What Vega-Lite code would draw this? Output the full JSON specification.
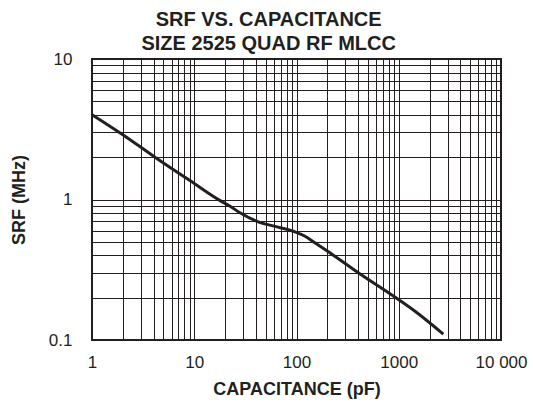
{
  "$schema": "https://vega.github.io/schema/vega-lite/v6.json",
  "width": 409,
  "height": 281,
  "autosize": {"type": "none"},
  "padding": {"left": 92, "top": 59, "right": 32, "bottom": 62},
  "background": "white",
  "title": {
    "text": ["SRF VS. CAPACITANCE", "SIZE 2525 QUAD RF MLCC"],
    "font": "Liberation Sans",
    "fontSize": 20,
    "fontWeight": "bold",
    "lineHeight": 24.4,
    "anchor": "middle",
    "frame": "bounds",
    "offset": -4,
    "color": "#231f20"
  },
  "config": {
    "view": {"stroke": "#231f20", "strokeWidth": 2},
    "axis": {
      "labelFont": "Liberation Sans",
      "titleFont": "Liberation Sans",
      "labelFontSize": 17,
      "titleFontSize": 18,
      "titleFontWeight": "bold",
      "labelColor": "#231f20",
      "titleColor": "#231f20",
      "gridColor": "#231f20",
      "gridWidth": 1,
      "gridOpacity": 1,
      "ticks": false,
      "domain": false
    }
  },
  "data": {
    "values": [
      {"c": 1, "srf": 4.02},
      {"c": 2.02, "srf": 2.88},
      {"c": 4.13, "srf": 2.0},
      {"c": 10, "srf": 1.3},
      {"c": 17.6, "srf": 0.99},
      {"c": 22.4, "srf": 0.896},
      {"c": 28, "srf": 0.804},
      {"c": 42.3, "srf": 0.694},
      {"c": 60.3, "srf": 0.646},
      {"c": 96.7, "srf": 0.589},
      {"c": 120, "srf": 0.55},
      {"c": 150, "srf": 0.495},
      {"c": 200, "srf": 0.43},
      {"c": 402, "srf": 0.301},
      {"c": 955, "srf": 0.198},
      {"c": 1497, "srf": 0.157},
      {"c": 2730, "srf": 0.11}
    ]
  },
  "mark": {"type": "line", "color": "#231f20", "strokeWidth": 3, "interpolate": "monotone", "clip": true},
  "encoding": {
    "x": {
      "field": "c",
      "type": "quantitative",
      "scale": {"type": "log", "domain": [1, 10000], "nice": false},
      "axis": {
        "title": "CAPACITANCE (pF)",
        "titlePadding": 10,
        "labelPadding": 14,
        "values": [1,2,3,4,5,6,7,8,9,10,20,30,40,50,60,70,80,90,100,200,300,400,500,600,700,800,900,1000,2000,3000,4000,5000,6000,7000,8000,9000,10000],
        "labelExpr": "datum.value == 10000 ? '10 000' : (indexof([1,10,100,1000], datum.value) >= 0 ? format(datum.value, 'd') : '')",
        "labelFlush": false,
        "labelOverlap": false
      }
    },
    "y": {
      "field": "srf",
      "type": "quantitative",
      "scale": {"type": "log", "domain": [0.1, 10], "nice": false},
      "axis": {
        "title": "SRF (MHz)",
        "titlePadding": 20,
        "labelPadding": 20,
        "values": [0.1,0.2,0.3,0.4,0.5,0.6,0.7,0.8,0.9,1,2,3,4,5,6,7,8,9,10],
        "labelExpr": "datum.value == 0.1 ? '0.1' : (datum.value == 1 ? '1' : (datum.value == 10 ? '10' : ''))",
        "labelFlush": false,
        "labelOverlap": false
      }
    }
  }
}
